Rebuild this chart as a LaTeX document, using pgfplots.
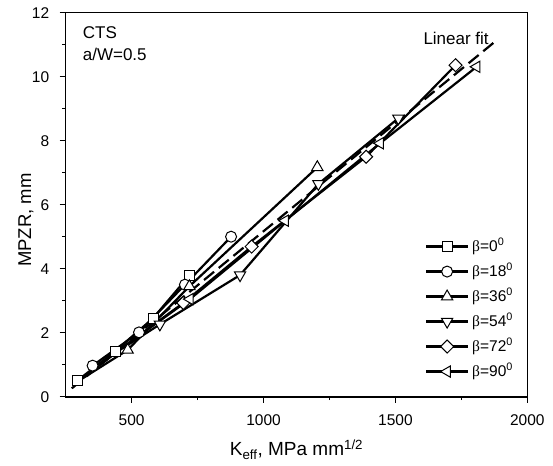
\documentclass[border=0pt]{standalone}
\usepackage{pgfplots}
\pgfplotsset{compat=1.18}
\usepackage{fontspec}
\setmainfont{Liberation Sans}
\newfontfamily\betafont{Liberation Serif}
\usetikzlibrary{plotmarks}
\newcommand{\bet}[1]{{\betafont β}=#1\textsuperscript{0}}
\begin{document}
\begin{tikzpicture}[x=1pt,y=1pt]
\path[use as bounding box] (-65.7,-68.3) rectangle (487.3,396.7);
\begin{axis}[
  at={(0,0)}, anchor=south west,
  width=461.6pt, height=384pt, scale only axis,
  xmin=250, xmax=2000, ymin=0, ymax=12,
  xtick={500,1000,1500,2000}, minor xtick={750,1250,1750},
  ytick={0,2,...,12}, minor ytick={1,3,...,11},
  tick pos=left, tick align=outside,
  major tick length=6pt, minor tick length=3.5pt,
  every tick/.style={line width=1.3pt, black},
  axis line style={line width=1.6pt},
  /pgf/number format/assume math mode=true,
  /pgf/number format/1000 sep={},
  scaled ticks=false,
  tick label style={font=\fontsize{15.5}{18}\selectfont},
  xticklabel style={yshift=-8pt},
  yticklabel style={xshift=-7pt},
  xlabel={K\textsubscript{eff}, MPa mm\textsuperscript{1/2}},
  xlabel style={font=\fontsize{19}{22}\selectfont, at={(axis description cs:0.5,-0.153)}, anchor=base, inner sep=0pt},
  ylabel={MPZR, mm},
  ylabel style={font=\fontsize{18.5}{21}\selectfont, at={(axis description cs:-0.086,0.46)}, anchor=center, inner sep=0pt},
  every axis plot/.append style={black, line width=2.2pt},
  legend image code/.code={\draw[mark repeat=2,mark phase=2,#1] plot coordinates {(0pt,0pt) (21pt,0pt) (42pt,0pt)};},
  legend cell align=left,
  legend style={draw=none, fill=none, inner sep=0pt, at={(rel axis cs:0.778,0.411)}, anchor=north west,
    font=\fontsize{15.5}{18}\selectfont, row sep=10pt, column sep=3pt,
    nodes={inner sep=0pt, text height=12pt, text depth=3pt}},
]
% hidden leading segments
\addplot[forget plot] coordinates {(300,0.5) (485,1.46)};
\addplot[forget plot] coordinates {(300,0.5) (440,1.38) (607,2.26)};
\addplot[forget plot] coordinates {(300,0.5) (450,1.45) (696,2.93)};
\addplot[forget plot] coordinates {(300,0.5) (460,1.5) (721,3.05)};

\addplot[mark=square*, mark size=5pt, mark options={fill=white, line width=1pt, solid}]
  coordinates {(294,0.5) (437,1.42) (581,2.45) (720,3.8)};
\addlegendentry{\bet{0}}
\addplot[mark=*, mark size=5.5pt, mark options={fill=white, line width=1pt, solid}]
  coordinates {(352,0.97) (528,2.01) (702,3.5) (877,5.0)};
\addlegendentry{\bet{18}}
\addplot[mark=triangle*, mark size=6.5pt, mark options={fill=white, line width=1pt, solid}]
  coordinates {(485,1.46) (719,3.45) (1204,7.17)};
\addlegendentry{\bet{36}}
\addplot[mark=triangle*, mark size=6.5pt, mark options={fill=white, line width=1pt, solid, rotate=180}]
  coordinates {(607,2.26) (911,3.8) (1208,6.65) (1511,8.7)};
\addlegendentry{\bet{54}}
\addplot[mark=square*, mark size=4.6pt, mark options={fill=white, line width=1pt, solid, rotate=45}]
  coordinates {(696,2.93) (955,4.69) (1389,7.5) (1728,10.36)};
\addlegendentry{\bet{72}}
\addplot[mark=triangle*, mark size=6.5pt, mark options={fill=white, line width=1pt, solid, rotate=90}]
  coordinates {(721,3.05) (1082,5.5) (1442,7.92) (1808,10.31)};
\addlegendentry{\bet{90}}
% linear fit
\addplot[forget plot, dash pattern=on 13pt off 6pt, line width=2.2pt] coordinates {(273,0.26) (1878,11.1)};

\node[anchor=base west, inner sep=0pt, font=\fontsize{17}{20}\selectfont] at (rel axis cs:0.0368,0.9315) {CTS};
\node[anchor=base west, inner sep=0pt, font=\fontsize{17}{20}\selectfont] at (rel axis cs:0.0368,0.8742) {a/W=0.5};
\node[anchor=base west, inner sep=0pt, font=\fontsize{17}{20}\selectfont] at (rel axis cs:0.7747,0.9159) {Linear fit};
\end{axis}
\end{tikzpicture}
\end{document}
